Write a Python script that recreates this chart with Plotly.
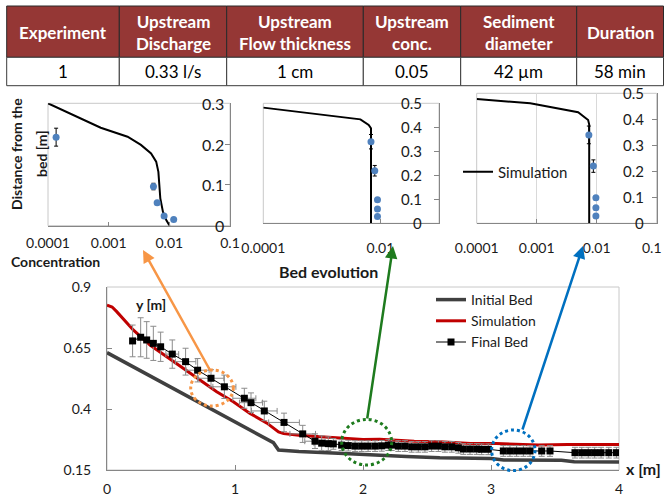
import plotly.graph_objects as go

W, H = 664, 497


def fx(p):
    return p / W


def fy(p):
    return 1 - p / H


FONT = "Lato"

# ---------------- table ----------------
table_headers = ["Experiment", "Upstream<br>Discharge", "Upstream<br>Flow thickness",
                 "Upstream<br>conc.", "Sediment<br>diameter", "Duration"]
table_values = ["1", "0.33 l/s", "1 cm", "0.05", "42 µm", "58 min"]
col_edges = [6.7, 119.3, 226.7, 363.3, 460.7, 576.7, 663.5]
row_edges = [6, 57.3, 85.7]

# ---------------- main chart: bed evolution ----------------
initial_x = [0, 1.30, 1.34, 1.5, 1.85, 2.0, 2.13, 2.34, 2.6, 2.8, 3.0, 3.1, 3.35, 3.55, 3.65, 4.0]
initial_y = [0.631, 0.262, 0.232, 0.226, 0.218, 0.213, 0.211, 0.205, 0.200, 0.198, 0.197,
             0.191, 0.190, 0.190, 0.184, 0.183]

sim_x = [0, 0.04, 0.076, 0.205, 0.336, 0.466, 0.596, 0.727, 0.857, 0.987, 1.117, 1.25, 1.30,
         1.34, 1.38, 1.43, 1.5, 1.64, 1.82, 2.0, 2.13, 2.4, 2.6, 2.84, 3.04, 3.3, 3.37, 3.6, 4.0]
sim_y = [0.826, 0.818, 0.799, 0.724, 0.662, 0.614, 0.567, 0.519, 0.471, 0.430, 0.382, 0.342, 0.322,
         0.306, 0.299, 0.295, 0.292, 0.287, 0.280, 0.275, 0.276, 0.268, 0.266, 0.259, 0.259, 0.252,
         0.252, 0.255, 0.255]

final_x = [0.20, 0.263, 0.31, 0.362, 0.419, 0.51, 0.614, 0.708, 0.8125, 0.917, 1.073, 1.125,
           1.229, 1.383, 1.529, 1.625, 1.677, 1.729, 1.768, 1.833, 1.885, 1.938, 1.99, 2.04,
           2.094, 2.146, 2.198, 2.224, 2.276, 2.328, 2.38, 2.432, 2.484, 2.536, 2.589, 2.64,
           2.693, 2.745, 2.784, 2.836, 2.888, 2.927, 2.979, 3.096, 3.148, 3.20, 3.253, 3.305,
           3.396, 3.461, 3.656, 3.709, 3.76, 3.81, 3.86, 3.92, 3.98]
final_y = [0.679, 0.694, 0.683, 0.669, 0.655, 0.625, 0.594, 0.559, 0.526, 0.491, 0.444, 0.426,
           0.392, 0.345, 0.298, 0.268, 0.260, 0.258, 0.257, 0.252, 0.250, 0.248, 0.248, 0.248,
           0.248, 0.249, 0.252, 0.252, 0.248, 0.248, 0.245, 0.245, 0.245, 0.248, 0.248, 0.245,
           0.245, 0.241, 0.236, 0.236, 0.236, 0.235, 0.235, 0.228, 0.228, 0.228, 0.228, 0.228,
           0.228, 0.228, 0.221, 0.221, 0.221, 0.221, 0.221, 0.221, 0.221]
final_ey = [0.065, 0.080, 0.075, 0.070, 0.060, 0.058, 0.055, 0.048, 0.035, 0.048, 0.041, 0.040,
            0.040, 0.038, 0.035, 0.030, 0.030, 0.028] + [0.022] * 39
final_ex = [0.0, 0.0, 0.0, 0.0, 0.0, 0.05, 0.08, 0.09, 0.10, 0.09, 0.09, 0.09,
            0.10, 0.12, 0.10, 0.08, 0.06, 0.05] + [0.0] * 39

x_ticks = [0, 1, 2, 3, 4]
y_ticks = [0.15, 0.4, 0.65, 0.9]
y_ticktext = ["0.15", "0.4", "0.65", "0.9"]

# ---------------- concentration profiles (insets) ----------------
conc_ticks = [0.0001, 0.001, 0.01, 0.1]
conc_ticktext = ["0.0001", "0.001", "0.01", "0.1"]

p1_sim_c = [1.0e-4, 7.4e-4, 2.05e-3, 3.4e-3, 5.0e-3, 6.07e-3, 6.6e-3, 6.9e-3, 7.1e-3, 7.85e-3,
            8.9e-3, 1.01e-2]
p1_sim_z = [0.300, 0.240, 0.218, 0.198, 0.177, 0.157, 0.132, 0.100, 0.067, 0.034, 0.014, 0.0]
p1_obs_c = [1.36e-4, 5.47e-3, 6.3e-3, 8.2e-3, 1.18e-2]
p1_obs_z = [0.217, 0.096, 0.056, 0.024, 0.015]
p1_obs_err = [0.022, 0.008, 0.0, 0.0, 0.0]
p1_yticks = [0, 0.1, 0.2, 0.3]

p2_sim_c = [1.0e-4, 4.55e-3, 6.3e-3, 6.9e-3, 6.9e-3]
p2_sim_z = [0.482, 0.433, 0.410, 0.396, 0.0]
p2_obs_c = [6.9e-3, 8.0e-3, 8.9e-3, 8.9e-3, 8.9e-3]
p2_obs_z = [0.340, 0.219, 0.098, 0.060, 0.028]
p2_obs_err = [0.030, 0.022, 0.0, 0.0, 0.0]
p2_yticks = [0, 0.1, 0.2, 0.3, 0.4, 0.5]

p3_sim_c = [1.0e-4, 7.8e-4, 4.9e-3, 7.2e-3, 7.5e-3, 7.5e-3]
p3_sim_z = [0.478, 0.4615, 0.427, 0.397, 0.380, 0.0]
p3_obs_c = [7.4e-3, 8.8e-3, 9.7e-3, 9.7e-3, 9.7e-3]
p3_obs_z = [0.340, 0.220, 0.098, 0.060, 0.028]
p3_obs_err = [0.034, 0.024, 0.0, 0.0, 0.0]
p3_yticks = [0, 0.1, 0.2, 0.3, 0.4, 0.5]

# ---------------- colours ----------------
C_INIT = "#404040"
C_SIM = "#C00000"
C_FINAL = "#000000"
C_ERR = "#8c8c8c"
C_BLUE = "#4F81BD"
C_HEAD = "#953735"
C_TXT = "#1a1a1a"

fig = go.Figure()

# main traces
fig.add_trace(go.Scatter(x=initial_x, y=initial_y, mode="lines", name="Initial Bed",
                         line=dict(color=C_INIT, width=3.5), xaxis="x", yaxis="y"))
fig.add_trace(go.Scatter(x=sim_x, y=sim_y, mode="lines", name="Simulation",
                         line=dict(color=C_SIM, width=3), xaxis="x", yaxis="y"))
fig.add_trace(go.Scatter(x=final_x, y=final_y, mode="lines+markers", name="Final Bed",
                         line=dict(color=C_FINAL, width=1),
                         marker=dict(symbol="square", size=7, color=C_FINAL),
                         error_y=dict(type="data", array=final_ey, color=C_ERR, thickness=1, width=3),
                         error_x=dict(type="data", array=final_ex, color=C_ERR, thickness=1, width=3),
                         xaxis="x", yaxis="y"))

# insets
insets = [
    (p1_sim_c, p1_sim_z, p1_obs_c, p1_obs_z, p1_obs_err, "x2", "y2", False),
    (p2_sim_c, p2_sim_z, p2_obs_c, p2_obs_z, p2_obs_err, "x3", "y3", False),
    (p3_sim_c, p3_sim_z, p3_obs_c, p3_obs_z, p3_obs_err, "x4", "y4", True),
]
for sc, sz, oc, oz, oe, xa, ya, leg in insets:
    fig.add_trace(go.Scatter(x=sc, y=sz, mode="lines", name="Simulation",
                             line=dict(color="black", width=2), xaxis=xa, yaxis=ya,
                             showlegend=leg, legend="legend2"))
    fig.add_trace(go.Scatter(x=oc, y=oz, mode="markers", name="Measured",
                             marker=dict(symbol="circle", size=7, color=C_BLUE),
                             error_y=dict(type="data", array=oe, color="black", thickness=1, width=2),
                             xaxis=xa, yaxis=ya, showlegend=False))

tickfont = dict(family=FONT, size=14, color=C_TXT)

layout = dict(
    width=W, height=H,
    margin=dict(l=0, r=0, t=0, b=0, autoexpand=False),
    paper_bgcolor="white", plot_bgcolor="rgba(0,0,0,0)",
    font=dict(family=FONT, color=C_TXT),
    hovermode=False,
    xaxis=dict(domain=[fx(107), fx(619)], range=[0, 4], tickvals=x_ticks,
               showgrid=False, zeroline=False, showline=True, linecolor="#868686",
               ticks="inside", ticklen=5, tickcolor="#868686", tickfont=tickfont,
               ticklabelstandoff=6, anchor="y", automargin=False),
    yaxis=dict(domain=[fy(470), fy(287)], range=[0.15, 0.9], tickvals=y_ticks,
               ticktext=y_ticktext,
               showgrid=False, zeroline=False, showline=True, linecolor="#868686",
               ticks="inside", ticklen=5, tickcolor="#868686", tickfont=tickfont,
               ticklabelstandoff=12, anchor="x", automargin=False),
    legend=dict(x=fx(431), y=fy(284), xanchor="left", yanchor="top",
                bgcolor="rgba(0,0,0,0)", font=dict(family=FONT, size=14, color=C_TXT),
                itemwidth=30, tracegroupgap=0),
    legend2=dict(x=fx(458), y=fy(172), xanchor="left", yanchor="middle",
                 bgcolor="rgba(0,0,0,0)", font=dict(family=FONT, size=15, color=C_TXT),
                 itemwidth=30),
)

inset_geom = [
    # xaxis, yaxis, x0, x1, ytop, ybot, yrange, yticks, yfont, xtickvals, xstand, ylabel_shift
    ("xaxis2", "yaxis2", 48, 230, 103.3, 225.7, [0, 0.3], p1_yticks, 16, conc_ticks, 4, -4),
    ("xaxis3", "yaxis3", 263.3, 439, 103.3, 223.3, [0, 0.5], p2_yticks, 15,
     [0.0001, 0.01], 12, -15),
    ("xaxis4", "yaxis4", 476.7, 656.7, 93.3, 223.3, [0, 0.5], p3_yticks, 15,
     conc_ticks[:3], 12, -11),
]
annotations = []
for i, (xk, yk, x0, x1, yt, yb, yr, ytv, yfs, xtv, xs, yshift) in enumerate(inset_geom):
    xname = "x" + xk[5:]
    yname = "y" + yk[5:]
    layout[xk] = dict(domain=[fx(x0), fx(x1)], type="log", range=[-4.0001, -0.9999], tickvals=xtv,
                      ticktext=[conc_ticktext[conc_ticks.index(v)] for v in xtv],
                      showgrid=(i == 2), gridcolor="#d9d9d9", zeroline=False,
                      showline=True, linecolor="#868686", ticks="inside", ticklen=4,
                      tickcolor="#868686", tickfont=dict(family=FONT, size=14, color=C_TXT),
                      ticklabelstandoff=xs, anchor=yname, automargin=False)
    layout[yk] = dict(domain=[fy(yb), fy(yt)], range=yr, tickvals=ytv, side="right",
                      showticklabels=False,
                      showgrid=False, zeroline=False, showline=True, linecolor="#868686",
                      ticks="inside", ticklen=5, tickcolor="#868686",
                      anchor=xname, automargin=False)
    # y tick labels placed through the axis scale, inside the plot next to the right axis
    for v in ytv:
        annotations.append(dict(x=1, xref=xname + " domain", y=v, yref=yname,
                                text=("%g" % v), showarrow=False, xanchor="right",
                                yanchor="middle", xshift=yshift,
                                font=dict(family=FONT, size=yfs, color=C_TXT)))

# last decade label of the right-hand profile sits at the picture edge
annotations.append(dict(x=-1, xref="x4", y=0, yref="y4 domain", text=conc_ticktext[3],
                        showarrow=False, xanchor="right", yanchor="top", yshift=-14,
                        xshift=7, font=dict(family=FONT, size=14, color=C_TXT)))

fig.update_layout(**layout)

shapes = []

# plot borders (light)
for x0, x1, y0, y1 in [(107, 619, 287, 470), (48, 230, 103.3, 225.7),
                       (263.3, 439, 103.3, 223.3), (476.7, 656.7, 93.3, 223.3)]:
    shapes.append(dict(type="rect", xref="paper", yref="paper", x0=fx(x0), x1=fx(x1),
                       y0=fy(y1), y1=fy(y0), line=dict(color="#c8c8c8", width=1), layer="below"))

# table
for j in range(len(table_headers)):
    xa, xb = col_edges[j], col_edges[j + 1]
    shapes.append(dict(type="rect", xref="paper", yref="paper", x0=fx(xa), x1=fx(xb),
                       y0=fy(row_edges[1]), y1=fy(row_edges[0]), fillcolor=C_HEAD,
                       line=dict(color="#2a2a2a", width=1)))
    shapes.append(dict(type="rect", xref="paper", yref="paper", x0=fx(xa), x1=fx(xb),
                       y0=fy(row_edges[2]), y1=fy(row_edges[1]), fillcolor="white",
                       line=dict(color="#3a3a3a", width=1)))
    cx = (xa + xb) / 2
    annotations.append(dict(x=fx(cx), y=fy(32.5), xref="paper", yref="paper",
                            text="<b>" + table_headers[j] + "</b>", showarrow=False,
                            font=dict(family=FONT, size=17, color="white"),
                            xanchor="center", yanchor="middle"))
    annotations.append(dict(x=fx(cx), y=fy(71.7), xref="paper", yref="paper",
                            text=table_values[j], showarrow=False,
                            font=dict(family=FONT, size=17, color="black"),
                            xanchor="center", yanchor="middle"))

# dotted circles
for cx, cy, rx, ry, col in [(212, 388, 21.3, 18.0, "#F79646"),
                            (366.7, 442.2, 25.0, 22.8, "#1E7B1E"),
                            (513.3, 450.3, 21.7, 20.3, "#0070C0")]:
    shapes.append(dict(type="circle", xref="paper", yref="paper", x0=fx(cx - rx), x1=fx(cx + rx),
                       y0=fy(cy + ry), y1=fy(cy - ry), line=dict(color=col, width=3, dash="dot")))

# arrows
for hx, hy, tx, ty, col in [(143, 250, 211, 372, "#F79646"),
                            (393, 246, 367, 420, "#1E7B1E"),
                            (583, 246, 522, 431, "#0070C0")]:
    annotations.append(dict(x=fx(hx), y=fy(hy), xref="paper", yref="paper", text="",
                            showarrow=True, ax=tx - hx, ay=ty - hy, arrowhead=2,
                            arrowsize=1, arrowwidth=2.5, arrowcolor=col))

# text labels
labels = [
    ("<b>Bed evolution</b>", 328, 271, 16, 0),
    ("<b>y [m]</b>", 151, 304, 14, 0),
    ("<b>x [m]</b>", 643, 468, 16, 0),
    ("<b>Concentration</b>", 56, 261, 14, 0),
    ("<b>Distance from the</b>", 16, 154, 14, -90),
    ("<b>bed [m]</b>", 41, 154, 14, -90),
]
for txt, x, y, fs, ang in labels:
    annotations.append(dict(x=fx(x), y=fy(y), xref="paper", yref="paper", text=txt,
                            showarrow=False, textangle=ang,
                            font=dict(family=FONT, size=fs, color=C_TXT),
                            xanchor="center", yanchor="middle"))

fig.update_layout(shapes=shapes, annotations=annotations)

# the page's default 8px body margin would push the fixed-size figure out of the window
fig.write_html("out.html", config={"displayModeBar": False},
               post_script="document.body.style.margin='0';document.body.style.overflow='hidden';")
